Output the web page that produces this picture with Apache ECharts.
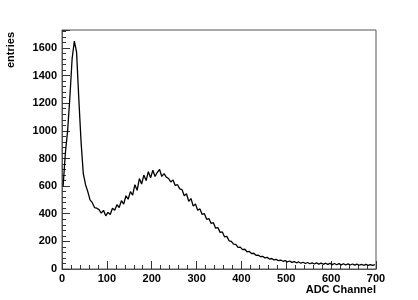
<!DOCTYPE html>
<html>
<head>
<meta charset="utf-8">
<script src="https://cdn.jsdelivr.net/npm/echarts@6/dist/echarts.min.js"></script>
<style>
html,body{margin:0;padding:0;background:#fff;}
#main{width:418px;height:300px;}
</style>
</head>
<body>
<div id="main"></div>
<script>
// Histogram: ADC channel bins of width 5, starting at 0 (plotted at bin centres)
var binWidth = 5;
var entries = [
 600, 840,1000,1240,1520,1650,1570,1230, 920, 690,
 610, 560, 500, 480, 445, 440, 430, 405, 425, 385,
 410, 395, 440, 425, 465, 445, 495, 470, 530, 505,
 560, 535, 610, 570, 655, 615, 680, 640, 705, 660,
 715, 670, 700, 720, 670, 690, 665, 655, 630, 645,
 605, 610, 580, 575, 530, 545, 490, 510, 455, 470,
 425, 435, 395, 400, 360, 365, 330, 335, 295, 300,
 265, 268, 232, 236, 204, 200, 180, 178, 156, 158,
 140, 143, 125, 127, 112, 114,  99, 101,  89,  92,
  80,  84,  72,  76,  66,  70,  60,  65,  56,  61,
  52,  58,  48,  54,  45,  51,  42,  49,  40,  47,
  38,  45,  36,  44,  35,  43,  34,  42,  33,  41,
  32,  40,  31,  39,  30,  38,  29,  37,  29,  36,
  28,  35,  27,  34,  27,  33,  26,  32,  26,  31
];
var xTicks = [0,100,200,300,400,500,600,700];
var yTicks = [0,200,400,600,800,1000,1200,1400,1600];
var xTitle = 'ADC Channel';
var yTitle = 'entries';

var lineData = entries.map(function(v,i){ return [i*binWidth + binWidth/2, v]; });

var font = '"Liberation Sans", Arial, Helvetica, sans-serif';
var chart = echarts.init(document.getElementById('main'), null, {renderer:'canvas'});
chart.setOption({
  animation:false,
  backgroundColor:'#fff',
  grid:{left:62,right:42,top:30,bottom:31,show:true,borderColor:'#555',borderWidth:1,backgroundColor:'transparent'},
  xAxis:{
    type:'value', min:xTicks[0], max:xTicks[xTicks.length-1], interval:xTicks[1]-xTicks[0],
    axisLine:{show:true,lineStyle:{color:'#555',width:1}},
    axisTick:{show:true,inside:true,length:8,lineStyle:{color:'#333'}},
    minorTick:{show:true,splitNumber:5,length:4,lineStyle:{color:'#333'}},
    splitLine:{show:false},
    axisLabel:{color:'#000',fontFamily:font,fontWeight:'bold',fontSize:11,margin:4}
  },
  yAxis:{
    type:'value', min:0, max:1730, interval:yTicks[1]-yTicks[0],
    axisLine:{show:true,lineStyle:{color:'#555',width:1}},
    axisTick:{show:true,inside:true,length:8,lineStyle:{color:'#333'}},
    minorTick:{show:true,splitNumber:5,length:4,lineStyle:{color:'#333'}},
    splitLine:{show:false},
    axisLabel:{color:'#000',fontFamily:font,fontWeight:'bold',fontSize:11,margin:5,
      formatter:function(v){ return yTicks.indexOf(v)>=0 ? String(v) : ''; }}
  },
  series:[{
    type:'line', data:lineData, showSymbol:false,
    lineStyle:{color:'#000',width:1.3}, silent:true
  }],
  graphic:[
    {type:'text',right:42,top:284,style:{text:xTitle,fill:'#000',font:'bold 11px '+font,textAlign:'right'}},
    {type:'text',x:5,y:68,rotation:Math.PI/2,style:{text:yTitle,fill:'#000',font:'bold 11px '+font,textAlign:'left',textVerticalAlign:'top'}}
  ]
});
</script>
</body>
</html>
